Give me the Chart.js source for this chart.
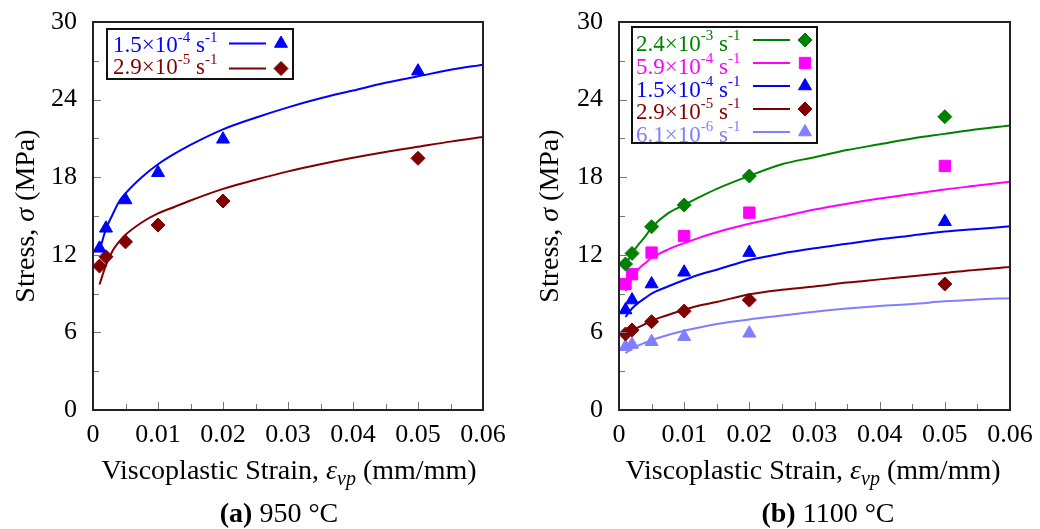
<!DOCTYPE html>
<html>
<head>
<meta charset="utf-8">
<script src="https://cdn.jsdelivr.net/npm/chart.js@4.4.0/dist/chart.umd.min.js"></script>
<style>
  html, body { margin: 0; padding: 0; background: #fff; }
  #wrap { position: relative; width: 1040px; height: 529px; }
  canvas { position: absolute; top: 0; }
</style>
</head>
<body>
<div id="wrap">
  <canvas id="chartA" width="520" height="529" style="left:0"></canvas>
  <canvas id="chartB" width="520" height="529" style="left:520px"></canvas>
</div>
<script>
'use strict';

// axis ticks
const xTicks = [0, 0.01, 0.02, 0.03, 0.04, 0.05, 0.06];
const xMinor = [0.005, 0.015, 0.025, 0.035, 0.045, 0.055];
const yTicks = [0, 6, 12, 18, 24, 30];
const yMinor = [3, 9, 15, 21, 27];

// strain of test points and of model curves
const testStrain = [0.001, 0.002, 0.005, 0.01, 0.02, 0.05];
const modelStrain = [0.001, 0.002, 0.003, 0.004, 0.005, 0.0075, 0.01, 0.0125, 0.015,
  0.02, 0.025, 0.03, 0.035, 0.04, 0.045, 0.05, 0.055, 0.06];

// (a) 950 C
const rateMant950 = ['1.5', '2.9'];
const rateExp950 = ['-4', '-5'];
const test950_a = [12.5, 14.05, 16.24, 18.35, 20.93, 26.2];
const test950_b = [11.13, 11.85, 13.0, 14.3, 16.16, 19.46];
const model950_a = [12.3, 14.0, 15.1, 16.1, 16.75, 18.0, 19.0, 19.8, 20.5, 21.7, 22.6, 23.4, 24.1, 24.7, 25.3, 25.8, 26.3, 26.7];
const model950_b = [9.7, 11.2, 12.3, 13.0, 13.55, 14.5, 15.2, 15.7, 16.2, 17.1, 17.8, 18.45, 19.0, 19.5, 19.95, 20.35, 20.75, 21.1];

// (b) 1100 C
const rateMant1100 = ['2.4', '5.9', '1.5', '2.9', '6.1'];
const rateExp1100 = ['-3', '-4', '-4', '-5', '-6'];
const test1100_a = [11.29, 12.11, 14.17, 15.85, 18.09, 22.68];
const test1100_b = [9.74, 10.5, 12.17, 13.45, 15.26, 18.87];
const test1100_c = [7.73, 8.5, 9.74, 10.65, 12.17, 14.56];
const test1100_d = [5.88, 6.19, 6.83, 7.65, 8.5, 9.74];
const test1100_e = [4.9, 5.07, 5.28, 5.67, 5.93, null];
const model1100_a = [11.2, 12.1, 12.8, 13.4, 14.1, 15.2, 15.85, 16.5, 17.1, 18.1, 19.0, 19.55, 20.1, 20.55, 21.0, 21.35, 21.7, 22.0];
const model1100_b = [9.2, 10.2, 10.9, 11.35, 11.75, 12.4, 12.9, 13.35, 13.75, 14.4, 14.95, 15.5, 15.95, 16.35, 16.7, 17.05, 17.35, 17.65];
const model1100_c = [7.2, 7.85, 8.3, 8.65, 9.0, 9.55, 10.05, 10.5, 10.85, 11.6, 12.1, 12.5, 12.85, 13.2, 13.5, 13.8, 14.0, 14.2];
const model1100_d = [5.75, 6.1, 6.4, 6.65, 6.9, 7.35, 7.75, 8.1, 8.35, 8.95, 9.3, 9.55, 9.85, 10.1, 10.35, 10.6, 10.85, 11.05];
const model1100_e = [4.4, 4.75, 5.0, 5.2, 5.4, 5.8, 6.13, 6.4, 6.65, 7.0, 7.3, 7.6, 7.85, 8.05, 8.2, 8.4, 8.55, 8.65];

const SERIF = '"Liberation Serif", "Times New Roman", serif';
const GREEN = '#008000', MAGENTA = '#ff00ff', BLUE = '#0000ff', DARKRED = '#800000', LIGHTBLUE = '#7f7fff';

function lineSet(ys, color) {
  return {
    data: modelStrain.map((x, i) => ({ x: x, y: ys[i] })),
    showLine: true, borderColor: color, backgroundColor: color, borderWidth: 2,
    pointRadius: 0, cubicInterpolationMode: 'monotone', order: 2
  };
}

function markSet(ys, color, style, r) {
  return {
    data: testStrain.map((x, i) => ({ x: x, y: ys[i] })).filter(p => p.y != null),
    showLine: false, pointStyle: style, pointRadius: r, backgroundColor: color,
    borderColor: color, borderWidth: 1, order: 1
  };
}

function segs(ctx, parts, x, y, measureOnly) {
  let w = 0;
  parts.forEach(p => {
    ctx.font = p.f;
    if (!measureOnly) ctx.fillText(p.t, x + w, y + (p.dy || 0));
    w += ctx.measureText(p.t).width;
  });
  return w;
}

const deco = {
  id: 'deco',
  afterDraw(chart, args, o) {
    const ctx = chart.ctx;
    const a = chart.chartArea;
    const xs = chart.scales.x, ys = chart.scales.y;
    ctx.save();

    // inward ticks
    ctx.strokeStyle = '#777';
    ctx.lineWidth = 1;
    ctx.beginPath();
    yTicks.forEach(v => { const p = Math.round(ys.getPixelForValue(v)) + 0.5; ctx.moveTo(a.left, p); ctx.lineTo(a.left + 8, p); });
    yMinor.forEach(v => { const p = Math.round(ys.getPixelForValue(v)) + 0.5; ctx.moveTo(a.left, p); ctx.lineTo(a.left + 6, p); });
    xTicks.forEach(v => { const p = Math.round(xs.getPixelForValue(v)) + 0.5; ctx.moveTo(p, a.bottom); ctx.lineTo(p, a.bottom - 8); });
    xMinor.forEach(v => { const p = Math.round(xs.getPixelForValue(v)) + 0.5; ctx.moveTo(p, a.bottom); ctx.lineTo(p, a.bottom - 6); });
    ctx.stroke();

    // frame
    ctx.strokeStyle = '#222';
    ctx.lineWidth = 2;
    ctx.strokeRect(a.left, a.top, a.right - a.left, a.bottom - a.top);

    // legend
    const L = o.legend;
    ctx.fillStyle = '#fff';
    ctx.fillRect(L.x, L.y, L.w, L.h);
    ctx.strokeStyle = '#111';
    ctx.lineWidth = 2;
    ctx.strokeRect(L.x, L.y, L.w, L.h);
    ctx.textBaseline = 'alphabetic';
    ctx.textAlign = 'left';
    const big = L.font + 'px ' + SERIF, sup = L.sup + 'px ' + SERIF;
    o.mant.forEach((m, i) => {
      const line = chart.data.datasets[2 * i];
      const mark = chart.data.datasets[2 * i + 1];
      const color = line.borderColor;
      const ry = L.row0 + i * L.rowGap;
      const ty = L.text0 + i * L.textGap;
      ctx.fillStyle = color;
      segs(ctx, [
        { t: m + '\u00d710', f: big },
        { t: o.exp[i], f: sup, dy: -L.raise },
        { t: ' s', f: big },
        { t: '-1', f: sup, dy: -L.raise }
      ], L.textX, ty);
      ctx.strokeStyle = color;
      ctx.lineWidth = 2;
      ctx.beginPath();
      ctx.moveTo(L.lineX0, ry);
      ctx.lineTo(L.lineX1, ry);
      ctx.stroke();
      ctx.fillStyle = color;
      ctx.lineWidth = 1;
      Chart.helpers.drawPoint(ctx, { pointStyle: mark.pointStyle, radius: mark.pointRadius, rotation: 0, borderWidth: 1 }, L.markX, ry);
    });

    // axis titles
    ctx.fillStyle = '#000';
    const reg = '28px ' + SERIF, it = 'italic 28px ' + SERIF, itSub = 'italic 20px ' + SERIF;
    const xt = [
      { t: 'Viscoplastic Strain, ', f: reg },
      { t: '\u03b5', f: it },
      { t: 'vp', f: itSub, dy: 6 },
      { t: ' (mm/mm)', f: reg }
    ];
    const xw = segs(ctx, xt, 0, 0, true);
    segs(ctx, xt, o.xTitle[0] - xw / 2, o.xTitle[1] + 9);

    const yt = [
      { t: 'Stress, ', f: reg },
      { t: '\u03c3', f: it },
      { t: ' (MPa)', f: reg }
    ];
    const yw = segs(ctx, yt, 0, 0, true);
    ctx.save();
    ctx.translate(o.yTitle[0], o.yTitle[1]);
    ctx.rotate(-Math.PI / 2);
    segs(ctx, yt, -yw / 2, 9);
    ctx.restore();

    // caption
    const cp = [
      { t: o.caption[0], f: 'bold 28px ' + SERIF },
      { t: o.caption[1], f: reg }
    ];
    const cw = segs(ctx, cp, 0, 0, true);
    segs(ctx, cp, o.capPos[0] - cw / 2, o.capPos[1] + 9);

    ctx.restore();
  }
};

function makeChart(id, datasets, yWidth, rightPad, decoOpts) {
  return new Chart(document.getElementById(id), {
    type: 'scatter',
    data: { datasets: datasets },
    options: {
      responsive: false,
      animation: false,
      events: [],
      layout: { padding: { top: 22, right: rightPad, left: 0, bottom: 0 } },
      plugins: { legend: { display: false }, tooltip: { enabled: false }, deco: decoOpts },
      scales: {
        x: {
          type: 'linear', min: 0, max: 0.06,
          afterBuildTicks: s => { s.ticks = xTicks.map(v => ({ value: v })); },
          afterFit: s => { s.height = 119; s.paddingLeft = 0; s.paddingRight = 0; },
          grid: { display: false, drawTicks: false },
          border: { display: false },
          ticks: { color: '#000', font: { family: SERIF, size: 26 }, padding: 10, maxRotation: 0, autoSkip: false, callback: v => String(v) }
        },
        y: {
          type: 'linear', min: 0, max: 30,
          afterBuildTicks: s => { s.ticks = yTicks.map(v => ({ value: v })); },
          afterFit: s => { s.width = yWidth; s.paddingTop = 0; s.paddingBottom = 0; },
          grid: { display: false, drawTicks: false },
          border: { display: false },
          ticks: { color: '#000', font: { family: SERIF, size: 26 }, padding: 16, callback: v => String(v) }
        }
      }
    },
    plugins: [deco]
  });
}

makeChart('chartA', [
  lineSet(model950_a, BLUE), markSet(test950_a, BLUE, 'triangle', 7.5),
  lineSet(model950_b, DARKRED), markSet(test950_b, DARKRED, 'rectRot', 7)
], 93, 37, {
  mant: rateMant950, exp: rateExp950,
  legend: { x: 107, y: 29, w: 186, h: 50, row0: 43.5, rowGap: 25, text0: 52, textGap: 21.5, raise: 10,
    textX: 113, lineX0: 229, lineX1: 266, markX: 281, font: 23, sup: 15 },
  xTitle: [289, 470], yTitle: [25, 216],
  caption: ['(a)', ' 950 \u00b0C'], capPos: [279, 513]
});

makeChart('chartB', [
  lineSet(model1100_a, GREEN), markSet(test1100_a, GREEN, 'rectRot', 7),
  lineSet(model1100_b, MAGENTA), markSet(test1100_b, MAGENTA, 'rect', 8),
  lineSet(model1100_c, BLUE), markSet(test1100_c, BLUE, 'triangle', 7.5),
  lineSet(model1100_d, DARKRED), markSet(test1100_d, DARKRED, 'rectRot', 7),
  lineSet(model1100_e, LIGHTBLUE), markSet(test1100_e, LIGHTBLUE, 'triangle', 7.5)
], 99, 30, {
  mant: rateMant1100, exp: rateExp1100,
  legend: { x: 112, y: 27, w: 185, h: 116, row0: 40, rowGap: 23, text0: 51, textGap: 22.8, raise: 11,
    textX: 116, lineX0: 233, lineX1: 270, markX: 285, font: 23, sup: 15 },
  xTitle: [293, 470], yTitle: [29, 216],
  caption: ['(b)', ' 1100 \u00b0C'], capPos: [308, 513]
});
</script>
</body>
</html>
